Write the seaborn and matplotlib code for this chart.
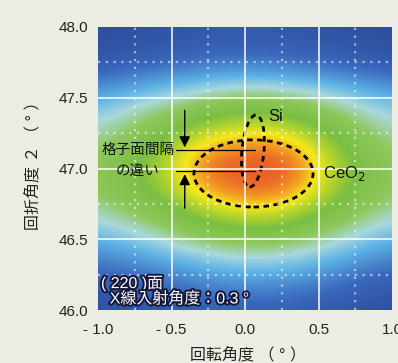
import numpy as np
import matplotlib
matplotlib.use("Agg")
import matplotlib.pyplot as plt
import matplotlib.patheffects as pe
from matplotlib.colors import LinearSegmentedColormap
from matplotlib.patches import Ellipse
import seaborn as sns

x_rot = [-1.0, -0.75, -0.5, -0.25, 0.0, 0.25, 0.5, 0.75, 1.0]
y_dif = [46.0, 46.25, 46.5, 46.75, 47.0, 47.25, 47.5, 47.75, 48.0]
intensidad = [
    [0.04, 0.05, 0.07, 0.09, 0.10, 0.10, 0.08, 0.06, 0.04],   # 46.00
    [0.12, 0.15, 0.20, 0.25, 0.28, 0.27, 0.23, 0.17, 0.12],   # 46.25
    [0.30, 0.36, 0.43, 0.50, 0.53, 0.52, 0.46, 0.38, 0.30],   # 46.50
    [0.47, 0.55, 0.65, 0.76, 0.83, 0.81, 0.69, 0.56, 0.47],   # 46.75
    [0.54, 0.63, 0.75, 0.95, 1.00, 1.00, 0.82, 0.64, 0.52],   # 47.00
    [0.43, 0.53, 0.64, 0.74, 0.79, 0.78, 0.67, 0.54, 0.44],   # 47.25
    [0.30, 0.36, 0.42, 0.48, 0.52, 0.50, 0.45, 0.38, 0.32],   # 47.50
    [0.07, 0.10, 0.13, 0.15, 0.16, 0.15, 0.13, 0.10, 0.07],   # 47.75
    [0.03, 0.04, 0.05, 0.07, 0.08, 0.07, 0.05, 0.04, 0.03],   # 48.00
]
xticks = [-1.0, -0.5, 0.0, 0.5, 1.0]
xtick_labels = ["- 1.0", "- 0.5", "0.0", "0.5", "1.0"]
yticks = [46.0, 46.5, 47.0, 47.5, 48.0]
ytick_labels = ["46.0", "46.5", "47.0", "47.5", "48.0"]

# Elipses (centro x, centro y, ancho, alto, ángulo)
elipse_ceo2 = (0.058, 46.965, 0.81, 0.475, 0)
elipse_si = (0.054, 47.124, 0.15, 0.51, -5)
linea_sup = 47.13
linea_inf = 46.98

sns.set_theme(style="white")
plt.rcParams['font.family'] = ['Liberation Sans', 'Noto Sans CJK JP']
fondo = '#ecece2'

cmap = LinearSegmentedColormap.from_list("mapa", [
    (0.00, '#2a4696'),
    (0.15, '#3a68bc'),
    (0.30, '#5db2e6'),
    (0.40, '#a9d8dc'),
    (0.50, '#8ec85c'),
    (0.62, '#7abf42'),
    (0.71, '#b8d62c'),
    (0.78, '#f6e81a'),
    (0.84, '#f4a222'),
    (0.91, '#ec6a26'),
    (1.00, '#de4828'),
])

fig = plt.figure(figsize=(3.98, 3.63), dpi=100, facecolor=fondo)
ax = fig.add_axes([98/398, 53/363, 294/398, 283/363])

ax.imshow(np.array(intensidad), cmap=cmap, vmin=0, vmax=1, origin='lower',
          extent=(-1.125, 1.125, 45.875, 48.125), interpolation='bicubic',
          aspect='auto')
ax.set_xlim(-1, 1)
ax.set_ylim(46, 48)

# Rejilla
for v in [-0.5, 0.0, 0.5]:
    ax.axvline(v, color='white', lw=1.3, alpha=0.85)
for v in [46.5, 47.0, 47.5]:
    ax.axhline(v, color='white', lw=1.3, alpha=0.85)
for v in [-0.75, -0.25, 0.25, 0.75]:
    ax.axvline(v, color='white', lw=1.6, ls=(0, (1, 2.5)), alpha=0.55)
for v in [46.25, 46.75, 47.25, 47.75]:
    ax.axhline(v, color='white', lw=1.6, ls=(0, (1, 2.5)), alpha=0.55)

# Elipses punteadas
for cx, cy, w, h, ang in [elipse_ceo2, elipse_si]:
    ax.add_patch(Ellipse((cx, cy), w, h, angle=ang, fill=False, ec='black',
                         lw=2, ls=(0, (2, 1.6))))

# Líneas y flechas
ax.plot([-0.47, 0.07], [linea_sup, linea_sup], color='black', lw=0.9)
ax.plot([-0.47, 0.07], [linea_inf, linea_inf], color='black', lw=0.9)
ax.annotate('', xy=(-0.41, linea_sup), xytext=(-0.41, 47.43),
            arrowprops=dict(arrowstyle='-|>', color='black', lw=1, mutation_scale=16))
ax.annotate('', xy=(-0.41, linea_inf), xytext=(-0.41, 46.7),
            arrowprops=dict(arrowstyle='-|>', color='black', lw=1, mutation_scale=16))

ax.text(-0.73, linea_sup, '格子面間隔', ha='center', va='center', fontsize=10.5, color='#111111')
ax.text(-0.73, linea_inf, 'の違い', ha='center', va='center', fontsize=10.5, color='#111111')
ax.text(0.21, 47.37, 'Si', ha='center', va='center', fontsize=12, color='#111111')
ax.text(0.53, 46.965, 'CeO$_2$', ha='left', va='center', fontsize=12, color='#111111')

borde = [pe.withStroke(linewidth=2.8, foreground='#15183a')]
ax.text(-0.98, 46.19, '( 220 )面', ha='left', va='center', fontsize=11.5,
        color='white', path_effects=borde)
ax.text(-0.92, 46.08, 'X線入射角度：0.3 °', ha='left', va='center', fontsize=11.5,
        color='white', path_effects=borde)

ax.set_xticks(xticks)
ax.set_xticklabels(xtick_labels)
ax.set_yticks(yticks)
ax.set_yticklabels(ytick_labels)
ax.tick_params(length=0, labelsize=11, colors='#222222')
ax.tick_params(axis='x', pad=9)
ax.tick_params(axis='y', pad=7)
for s in ax.spines.values():
    s.set_visible(False)
ax.grid(False)

fig.text(248/398, 1 - 355/363, '回転角度 （ ° ）', ha='center', va='center', fontsize=11.5, color='#222222')
fig.text(33/398, 1 - 162/363, '回折角度 ２ （ ° ）', ha='center', va='center', fontsize=11.5,
         rotation=90, color='#222222')

fig.savefig('out.png', dpi=100, facecolor=fondo)
